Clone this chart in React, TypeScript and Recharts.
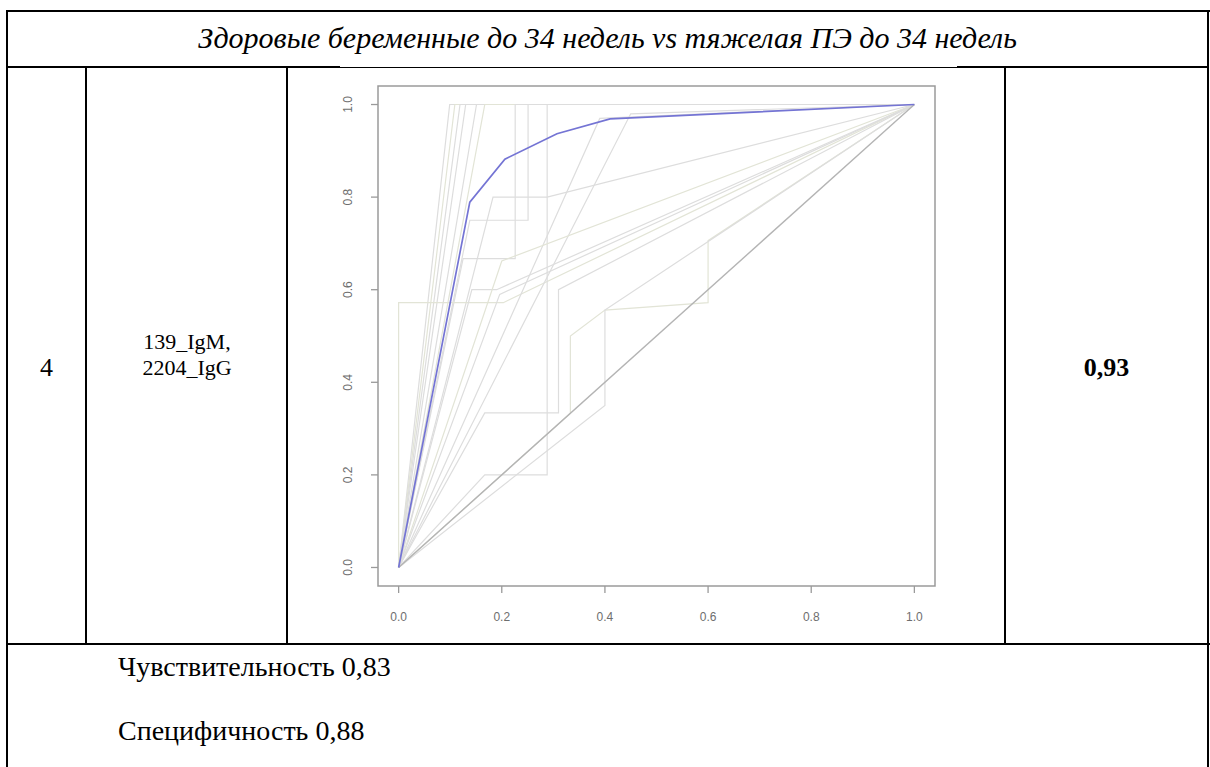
import { LineChart, Line, XAxis, YAxis, ReferenceArea } from "recharts";

// main ROC curve (blue)
const mainFpr = [0, 0.138, 0.206, 0.307, 0.41, 1];
const mainTpr = [0, 0.789, 0.882, 0.937, 0.969, 1];

// reference diagonal
const diagFpr = [0, 1];
const diagTpr = [0, 1];

// other single-marker ROC curves drawn in light grey
const greyFpr: number[][] = [
  [0, 0.099, 1],
  [0, 0.109, 1],
  [0, 0.119, 1],
  [0, 0.13, 1],
  [0, 0.151, 1],
  [0, 0.167, 1],
  [0, 0.138, 0.251, 0.251, 1],
  [0, 0.125, 0.226, 0.226, 1],
  [0, 0.183, 0.288, 1],
  [0, 0, 0.203, 1],
  [0, 0.142, 0.19, 1],
  [0, 0.167, 0.288, 0.288, 1],
  [0, 0.167, 0.31, 0.31, 1],
  [0, 0.333, 0.333, 0.4, 0.6, 0.6, 1],
  [0, 0.4, 0.4, 1],
  [0, 0.39, 1],
  [0, 0.45, 1],
  [0, 0.2, 1],
  [0, 0.196, 1],
];
const greyTpr: number[][] = [
  [0, 1, 1],
  [0, 1, 1],
  [0, 1, 1],
  [0, 1, 1],
  [0, 1, 1],
  [0, 1, 1],
  [0, 0.75, 0.75, 1, 1],
  [0, 0.667, 0.667, 1, 1],
  [0, 0.8, 0.8, 1],
  [0, 0.572, 0.572, 1],
  [0, 0.6, 0.6, 1],
  [0, 0.2, 0.2, 1, 1],
  [0, 0.334, 0.334, 0.6, 1],
  [0, 0.333, 0.5, 0.556, 0.572, 0.706, 1],
  [0, 0.35, 0.556, 1],
  [0, 0.97, 1],
  [0, 0.98, 1],
  [0, 0.662, 1],
  [0, 0.59, 1],
];

const axisTicks = [0, 0.2, 0.4, 0.6, 0.8, 1];

const title = "Здоровые беременные до 34 недель vs тяжелая ПЭ до 34 недель";
const rowNumber = "4";
const markers = ["139_IgM,", "2204_IgG"];
const auc = "0,93";
const notes = ["Чувствительность 0,83", "Специфичность 0,88"];

const toPoints = (xs: number[], ys: number[]) => xs.map((x, i) => ({ x, y: ys[i] }));

const tickFont = { fontFamily: "Liberation Sans, Arial, sans-serif", fontSize: 12, fill: "#6e6e6e" };

const XTick = ({ x, y, payload }: any) => (
  <text x={x} y={y} textAnchor="middle" dominantBaseline="central" {...tickFont}>
    {Number(payload.value).toFixed(1)}
  </text>
);

const YTick = ({ x, y, payload }: any) => (
  <text
    x={x}
    y={y}
    textAnchor="middle"
    dominantBaseline="central"
    transform={`rotate(-90, ${x}, ${y})`}
    {...tickFont}
  >
    {Number(payload.value).toFixed(1)}
  </text>
);

const Rule = ({ l, t, w, h }: { l: number; t: number; w: number; h: number }) => (
  <div style={{ position: "absolute", left: l, top: t, width: w, height: h, background: "#000" }} />
);

const Txt = ({ l, w, cy, children, style }: any) => (
  <div
    style={{
      position: "absolute",
      left: l,
      width: w,
      top: cy - 20,
      height: 40,
      lineHeight: "40px",
      textAlign: "center",
      whiteSpace: "nowrap",
      fontSize: 24,
      ...style,
    }}
  >
    {children}
  </div>
);

function RocChart() {
  return (
    <LineChart width={660} height={560} margin={{ top: 16, right: 25, left: 8, bottom: 0 }}>
      <XAxis
        type="number"
        dataKey="x"
        domain={[-0.04, 1.04]}
        ticks={axisTicks}
        allowDataOverflow
        axisLine={false}
        tickLine={{ stroke: "#9a9a9a", strokeWidth: 1.3 }}
        tickSize={7}
        tickMargin={24}
        height={44}
        tick={<XTick />}
        interval={0}
      />
      <YAxis
        type="number"
        dataKey="y"
        domain={[-0.04, 1.04]}
        ticks={axisTicks}
        allowDataOverflow
        axisLine={false}
        tickLine={{ stroke: "#9a9a9a", strokeWidth: 1.3 }}
        tickSize={7}
        tickMargin={23}
        width={70}
        tick={<YTick />}
        interval={0}
      />
      {greyFpr.map((xs, i) => (
        <Line
          key={"g" + i}
          data={toPoints(xs, greyTpr[i])}
          dataKey="y"
          type="linear"
          stroke={i % 4 === 1 ? "#e2e4d6" : "#dddddd"}
          strokeWidth={1.2}
          dot={false}
          activeDot={false}
          isAnimationActive={false}
        />
      ))}
      <Line
        data={toPoints(diagFpr, diagTpr)}
        dataKey="y"
        type="linear"
        stroke="#b4b4b4"
        strokeWidth={1.4}
        dot={false}
        activeDot={false}
        isAnimationActive={false}
      />
      <Line
        data={toPoints(mainFpr, mainTpr)}
        dataKey="y"
        type="linear"
        stroke="#7474d4"
        strokeWidth={1.7}
        dot={false}
        activeDot={false}
        isAnimationActive={false}
      />
      <ReferenceArea
        x1={-0.04}
        x2={1.04}
        y1={-0.04}
        y2={1.04}
        fill="none"
        stroke="#9a9a9a"
        strokeWidth={1.5}
        ifOverflow="visible"
      />
    </LineChart>
  );
}

export default function App() {
  return (
    <div
      style={{
        position: "absolute",
        left: 0,
        top: 0,
        width: 1210,
        height: 767,
        background: "#fff",
        overflow: "hidden",
        fontFamily: "Liberation Serif, 'Times New Roman', serif",
        color: "#000",
      }}
    >
      {/* table borders */}
      <Rule l={6} t={10} w={1204} h={2} />
      <Rule l={6} t={10} w={2} h={757} />
      <Rule l={1207} t={10} w={2} h={757} />
      <Rule l={6} t={66} w={334} h={2} />
      <Rule l={340} t={67} w={617} h={1} />
      <Rule l={957} t={66} w={252} h={2} />
      <Rule l={85} t={66} w={2} h={579} />
      <Rule l={286} t={66} w={2} h={579} />
      <Rule l={1004} t={66} w={2} h={579} />
      <Rule l={6} t={643} w={1204} h={2} />

      <Txt l={8} w={1199} cy={38} style={{ fontStyle: "italic", fontSize: 30 }}>
        {title}
      </Txt>
      <Txt l={8} w={77} cy={368} style={{ fontSize: 26 }}>
        {rowNumber}
      </Txt>
      {markers.map((m, i) => (
        <Txt key={m} l={88} w={198} cy={342 + i * 26} style={{ fontSize: 22 }}>
          {m}
        </Txt>
      ))}
      <Txt l={1006} w={201} cy={368} style={{ fontWeight: "bold", fontSize: 26 }}>
        {auc}
      </Txt>
      {notes.map((n, i) => (
        <Txt key={n} l={118} w={700} cy={667 + i * 64} style={{ textAlign: "left", fontSize: 28 }}>
          {n}
        </Txt>
      ))}

      <div style={{ position: "absolute", left: 300, top: 70 }}>
        <RocChart />
      </div>
    </div>
  );
}
